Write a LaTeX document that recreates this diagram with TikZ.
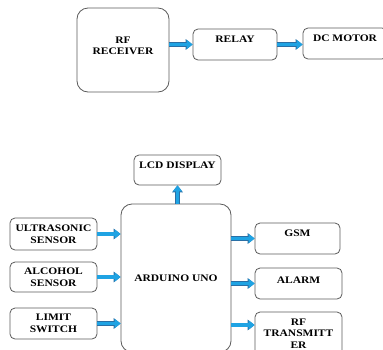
\documentclass[tikz,border=0pt]{standalone}
\usepackage{fontspec}
\setmainfont{Liberation Serif}[FakeStretch=1.15]
\usetikzlibrary{arrows.meta, calc}
\definecolor{cline}{HTML}{5A5A5A}
\definecolor{cblue}{HTML}{1FA3E3}
\definecolor{cedge}{HTML}{2A6FA5}
\tikzset{
  every picture/.style={font=\fontsize{10}{11.5}\selectfont\bfseries},
  box/.style={draw=cline, line width=0.8pt, rounded corners=5pt, align=center, inner sep=0pt,
    minimum width=#1},
  box/.default=87pt,
  bigbox/.style={box=#1, rounded corners=11pt},
  flow/.style={draw=cblue, line width=3.4pt, -{Triangle[length=6pt, width=9pt]},
    preaction={draw=cedge, line width=4.4pt, -{Triangle[length=7pt, width=10.5pt]}}},
}
\begin{document}
\begin{tikzpicture}[x=1pt, y=-1pt]
  \useasboundingbox (0,0) rectangle (383,349);

  % receiver side
  \node[bigbox=92pt, minimum height=84pt, text depth=9pt] (rx) at (123,50) {RF\\RECEIVER};
  \node[box=84pt, minimum height=31pt, text depth=11pt] (relay) at (235,44.5) {RELAY};
  \node[box=84pt, minimum height=31pt, text depth=10pt] (motor) at (345,43.5) {DC MOTOR};

  % transmitter side
  \node[box, minimum height=30pt, text depth=10pt] (lcd) at (177.5,170) {LCD DISPLAY};
  \node[bigbox=110pt, minimum height=148pt] (uno) at (176,278) {ARDUINO UNO};
  \node[box, minimum height=32pt] (sonic) at (53.5,234) {ULTRASONIC\\SENSOR};
  \node[box, minimum height=30pt] (alco) at (53.5,277) {ALCOHOL\\SENSOR};
  \node[box, minimum height=31pt] (limit) at (53.5,323.5) {LIMIT\\SWITCH};
  \node[box=85pt, minimum height=31pt, text depth=11pt] (gsm) at (297.5,238.5) {GSM};
  \node[box, minimum height=31pt, text depth=7pt] (alarm) at (298.5,283.5) {ALARM};
  \node[box, minimum height=43pt] (rftx) at (298.5,333.5) {RF\\TRANSMITT\\ER};
  \coordinate (rfin) at ($(rftx.west)+(0,-8.5)$);

  \draw[flow] (rx.east |- relay.west) -- (relay.west);
  \draw[flow] (relay.east) -- (relay.east -| motor.west);
  \draw[flow] (uno.north -| lcd.south) -- (lcd.south);
  \foreach \s in {sonic, alco, limit} \draw[flow] (\s.east) -- (\s.east -| uno.west);
  \draw[flow] (uno.east |- gsm.west) -- (gsm.west);
  \draw[flow] (uno.east |- alarm.west) -- (alarm.west);
  \draw[flow] (rfin -| uno.east) -- (rfin);
\end{tikzpicture}
\end{document}
